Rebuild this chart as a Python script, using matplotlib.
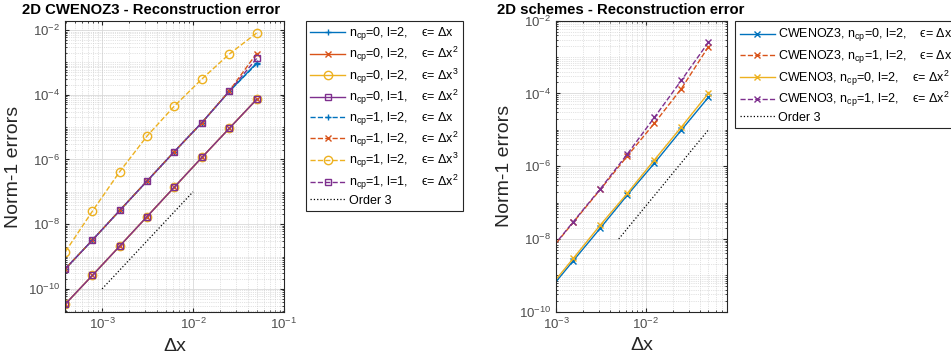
"""
Reconstruction error plots for the 2D CWENO schemes
"""
import numpy as np
import matplotlib
matplotlib.use("Agg")
import matplotlib.pyplot as plt
from matplotlib.ticker import LogLocator, FixedLocator, NullFormatter

plt.rcParams['font.family'] = ['Liberation Sans', 'DejaVu Sans']
plt.rcParams['mathtext.fontset'] = 'custom'
plt.rcParams['mathtext.rm'] = 'Liberation Sans'
plt.rcParams['mathtext.it'] = 'Liberation Sans:italic'
plt.rcParams['mathtext.bf'] = 'Liberation Sans:bold'

# matlab default line colours
C_BLUE, C_RED, C_ORANGE, C_PURPLE = '#0072BD', '#D95319', '#EDB120', '#7E2F8E'
AX_COL = '#262626'
TXT_COL = '#4d4d4d'

# ---- data: CWENOZ3 ----
dx_z = [0.05, 0.025, 0.0125, 0.00625, 0.003125, 0.0015625, 0.00078125, 0.000390625]

err_z_ncp0_l2_e1 = [9.5e-4, 1.27e-4, 1.37e-5, 1.76e-6, 2.16e-7, 2.65e-8, 3.2e-9, 4.05e-10]
err_z_ncp0_l2_e2 = [7.15e-5, 9.1e-6, 1.15e-6, 1.41e-7, 1.72e-8, 2.1e-9, 2.6e-10, 3.3e-11]
err_z_ncp0_l2_e3 = [7.15e-5, 9.1e-6, 1.15e-6, 1.41e-7, 1.72e-8, 2.1e-9, 2.6e-10, 3.3e-11]
err_z_ncp0_l1_e2 = [7.15e-5, 9.1e-6, 1.15e-6, 1.41e-7, 1.72e-8, 2.1e-9, 2.6e-10, 3.3e-11]
err_z_ncp1_l2_e1 = [9.0e-4, 1.27e-4, 1.37e-5, 1.76e-6, 2.16e-7, 2.65e-8, 3.2e-9, 4.05e-10]
err_z_ncp1_l2_e2 = [1.88e-3, 1.3e-4, 1.37e-5, 1.76e-6, 2.16e-7, 2.65e-8, 3.2e-9, 4.05e-10]
err_z_ncp1_l2_e3 = [8.07e-3, 1.8e-3, 3.05e-4, 4.5e-5, 5.3e-6, 4.2e-7, 2.5e-8, 1.35e-9]
err_z_ncp1_l1_e2 = [1.32e-3, 1.27e-4, 1.37e-5, 1.76e-6, 2.16e-7, 2.65e-8, 3.2e-9, 4.05e-10]

order3_x_z = [1e-3, 1e-2]
order3_y_z = [1e-10, 1e-7]

labels_z = [
    r'n$_{\mathrm{cp}}$=0, l=2,    ϵ= Δx',
    r'n$_{\mathrm{cp}}$=0, l=2,    ϵ= Δx$^{2}$',
    r'n$_{\mathrm{cp}}$=0, l=2,    ϵ= Δx$^{3}$',
    r'n$_{\mathrm{cp}}$=0, l=1,    ϵ= Δx$^{2}$',
    r'n$_{\mathrm{cp}}$=1, l=2,    ϵ= Δx',
    r'n$_{\mathrm{cp}}$=1, l=2,    ϵ= Δx$^{2}$',
    r'n$_{\mathrm{cp}}$=1, l=2,    ϵ= Δx$^{3}$',
    r'n$_{\mathrm{cp}}$=1, l=1,    ϵ= Δx$^{2}$',
    'Order 3',
]

# ---- data: scheme comparison ----
dx_s = [0.05, 0.025, 0.0125, 0.00625, 0.003125, 0.0015625, 0.00078125]

err_cwenoz3_ncp0 = [7.85e-5, 9.9e-6, 1.21e-6, 1.62e-7, 2.0e-8, 2.55e-9, 3.2e-10]
err_cwenoz3_ncp1 = [1.93e-3, 1.36e-4, 1.52e-5, 1.92e-6, 2.3e-7, 2.9e-8, 3.6e-9]
err_cweno3_ncp0 = [1.01e-4, 1.2e-5, 1.49e-6, 1.81e-7, 2.44e-8, 2.96e-9, 3.7e-10]
err_cweno3_ncp1 = [2.55e-3, 2.3e-4, 2.2e-5, 2.18e-6, 2.4e-7, 3.0e-8, 3.7e-9]

order3_x_s = [0.005, 0.05]
order3_y_s = [1e-8, 1e-5]

labels_s = [
    r'CWENOZ3, n$_{\mathrm{cp}}$=0, l=2,    ϵ= Δx$^{2}$',
    r'CWENOZ3, n$_{\mathrm{cp}}$=1, l=2,    ϵ= Δx$^{2}$',
    r'CWENO3, n$_{\mathrm{cp}}$=0, l=2,    ϵ= Δx$^{2}$',
    r'CWENO3, n$_{\mathrm{cp}}$=1, l=2,    ϵ= Δx$^{2}$',
    'Order 3',
]


def style_axes(ax, yticks, xticks):
    ax.set_xscale('log')
    ax.set_yscale('log')
    ax.yaxis.set_major_locator(FixedLocator(yticks))
    ax.xaxis.set_major_locator(FixedLocator(xticks))
    for axis in (ax.xaxis, ax.yaxis):
        axis.set_minor_locator(LogLocator(base=10, subs=np.arange(1, 10), numticks=100))
        axis.set_minor_formatter(NullFormatter())
    ax.grid(True, which='major', color='#d9d9d9', lw=0.6)
    ax.grid(True, which='minor', color='#c8c8c8', lw=0.5, ls=':')
    ax.set_axisbelow(True)
    ax.tick_params(which='both', direction='in', top=True, right=True,
                   colors=AX_COL, labelcolor=TXT_COL, labelsize=9.5)
    ax.tick_params(which='major', length=3)
    ax.tick_params(which='minor', length=1.5)
    for sp in ax.spines.values():
        sp.set_color(AX_COL)
        sp.set_linewidth(0.8)
    ax.set_xlabel('Δx', fontsize=14, color=AX_COL)
    ax.set_ylabel('Norm-1 errors', fontsize=14, color=AX_COL)


def boxed_legend(ax, x_anchor):
    leg = ax.legend(loc='upper left', bbox_to_anchor=(x_anchor, 1.0), fontsize=9,
                    handlelength=2.8, handletextpad=0.3, labelspacing=0.2,
                    borderaxespad=0, borderpad=0.35, fancybox=False, framealpha=1)
    leg.get_frame().set_edgecolor(AX_COL)
    leg.get_frame().set_linewidth(0.8)
    return leg


fig = plt.figure(figsize=(9.51, 3.58), dpi=100)

# ---- left panel ----
ax1 = fig.add_axes([0.0683, 0.1285, 0.2303, 0.8128])
ms = 5
ax1.plot(dx_z, err_z_ncp0_l2_e1, '-', marker='+', color=C_BLUE, lw=1, ms=ms, label=labels_z[0])
ax1.plot(dx_z, err_z_ncp0_l2_e2, '-', marker='x', color=C_RED, lw=1, ms=ms, label=labels_z[1])
ax1.plot(dx_z, err_z_ncp0_l2_e3, '-', marker='o', color=C_ORANGE, lw=1, ms=ms + 1, mfc='none', label=labels_z[2])
ax1.plot(dx_z, err_z_ncp0_l1_e2, '-', marker='s', color=C_PURPLE, lw=1, ms=ms, mfc='none', label=labels_z[3])
ax1.plot(dx_z, err_z_ncp1_l2_e1, '--', marker='+', color=C_BLUE, lw=1, ms=ms, label=labels_z[4])
ax1.plot(dx_z, err_z_ncp1_l2_e2, '--', marker='x', color=C_RED, lw=1, ms=ms, label=labels_z[5])
ax1.plot(dx_z, err_z_ncp1_l2_e3, '--', marker='o', color=C_ORANGE, lw=1, ms=ms + 1, mfc='none', label=labels_z[6])
ax1.plot(dx_z, err_z_ncp1_l1_e2, '--', marker='s', color=C_PURPLE, lw=1, ms=ms, mfc='none', label=labels_z[7])
ax1.plot(order3_x_z, order3_y_z, ':', color='k', lw=0.9, label=labels_z[8])

ax1.set_xlim(min(dx_z), 0.1)
ax1.set_ylim(1.93e-11, 1.9e-2)
style_axes(ax1, [1e-10, 1e-8, 1e-6, 1e-4, 1e-2], [1e-3, 1e-2, 1e-1])
ax1.set_title('2D CWENOZ3 - Reconstruction error', fontsize=10.7, fontweight='bold',
              x=0.395, pad=5)
boxed_legend(ax1, 1.1)

# ---- right panel ----
ax2 = fig.add_axes([0.5847, 0.1293, 0.1795, 0.813])
ax2.plot(dx_s, err_cwenoz3_ncp0, '-', marker='x', color=C_BLUE, lw=1, ms=ms, label=labels_s[0])
ax2.plot(dx_s, err_cwenoz3_ncp1, '--', marker='x', color=C_RED, lw=1, ms=ms, label=labels_s[1])
ax2.plot(dx_s, err_cweno3_ncp0, '-', marker='x', color=C_ORANGE, lw=1, ms=ms, label=labels_s[2])
ax2.plot(dx_s, err_cweno3_ncp1, '--', marker='x', color=C_PURPLE, lw=1, ms=ms, label=labels_s[3])
ax2.plot(order3_x_s, order3_y_s, ':', color='k', lw=0.9, label=labels_s[4])

ax2.set_xlim(1e-3, 0.08)
ax2.set_ylim(1e-10, 1e-2)
style_axes(ax2, [1e-10, 1e-8, 1e-6, 1e-4, 1e-2], [1e-3, 1e-2])
ax2.set_title('2D schemes - Reconstruction error', fontsize=10.7, fontweight='bold',
              x=0.38, pad=5)
boxed_legend(ax2, 1.05)

fig.savefig('out.png', dpi=100)
